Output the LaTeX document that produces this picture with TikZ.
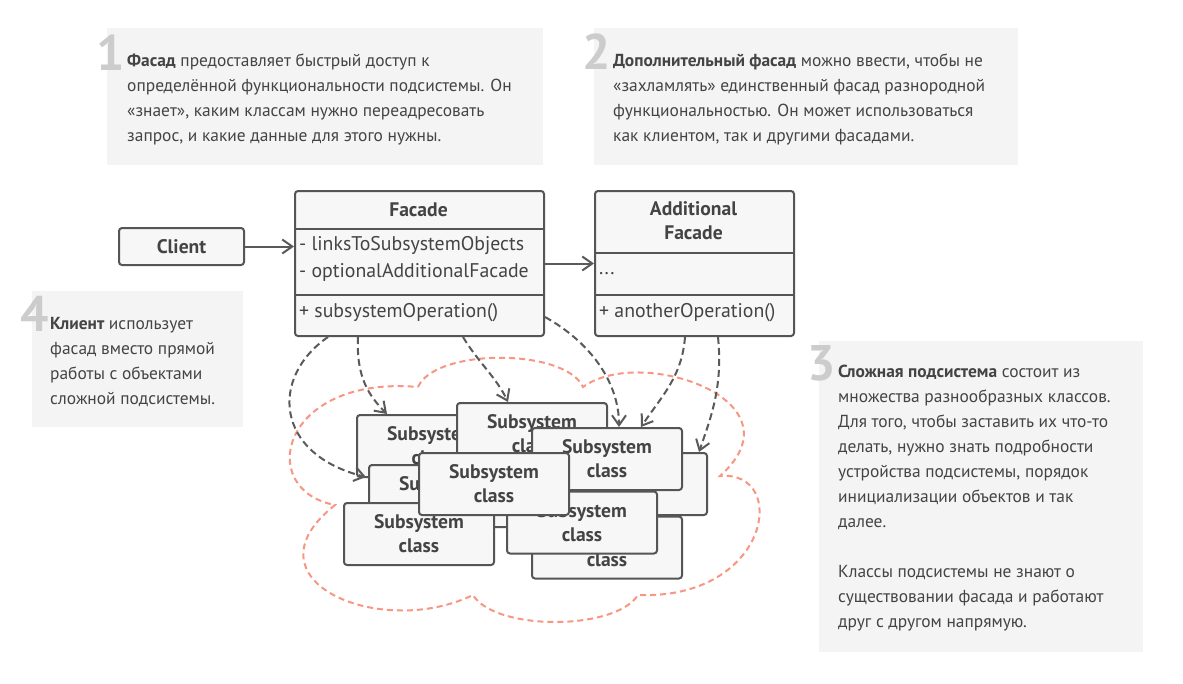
\documentclass[tikz,border=0pt]{standalone}
\usepackage{fontspec}
\setmainfont{PT Sans}
\usetikzlibrary{arrows.meta}
\definecolor{notebg}{RGB}{244,244,244}
\definecolor{digitgray}{RGB}{204,204,204}
\definecolor{txt}{RGB}{68,68,68}
\definecolor{boxline}{RGB}{85,85,85}
\definecolor{boxfill}{RGB}{247,247,247}
\definecolor{arrowgray}{RGB}{90,90,90}
\definecolor{salmon}{RGB}{248,150,130}
\begin{document}
\begin{tikzpicture}[x=1pt,y=-1pt,
  notebox/.style={fill=notebg, draw=none, inner sep=0, anchor=north west},
  digit/.style={anchor=base east, inner sep=0, text=digitgray, font=\fontsize{50}{50}\selectfont\bfseries},
  notetext/.style={anchor=base west, inner sep=0, text=txt, font=\fontsize{17.4}{25}\selectfont},
  umlbox/.style={draw=boxline, fill=boxfill, line width=2pt, rounded corners=3pt, inner sep=0},
  divider/.style={draw=boxline, line width=2pt},
  umltitle/.style={inner sep=0, text=txt, align=center, font=\fontsize{19.6}{24}\selectfont\bfseries},
  umlattr/.style={inner sep=0, anchor=west, text=txt, font=\fontsize{19.8}{24}\selectfont},
  sub/.style={umlbox, minimum width=150pt, minimum height=62pt, text=txt, align=center, font=\fontsize{19.6}{24}\selectfont\bfseries},
  arr/.style={draw=arrowgray, line width=2pt, -{Straight Barb[length=10pt,width=14pt]}},
  dep/.style={arr, dash pattern=on 7pt off 4pt},
  cloudline/.style={draw=salmon, line width=2pt, dash pattern=on 6pt off 4pt}
]
\useasboundingbox (0,0) rectangle (1183,683);
\fill[white] (0,0) rectangle (1183,683);

% ---------- notes ----------
\node[notebox, minimum width=436pt, minimum height=137pt] (n1) at (107,28) {};
\node[digit] (d1) at (125,70) {1};
\node[notetext] (t1) at (127,66) {\vtop{%
\hbox{\textbf{Фасад} предоставляет быстрый доступ к}
\hbox{определённой функциональности подсистемы. Он}
\hbox{«знает», каким классам нужно переадресовать}
\hbox{запрос, и какие данные для этого нужны.}}};

\node[notebox, minimum width=424pt, minimum height=137pt] (n2) at (594,28) {};
\node[digit] (d2) at (611,69) {2};
\node[notetext] (t2) at (613,66) {\vtop{%
\hbox{\textbf{Дополнительный фасад} можно ввести, чтобы не}
\hbox{«захламлять» единственный фасад разнородной}
\hbox{функциональностью. Он может использоваться}
\hbox{как клиентом, так и другими фасадами.}}};

\node[notebox, minimum width=211pt, minimum height=136pt] (n4) at (32,291) {};
\node[digit] (d4) at (49,331) {4};
\node[notetext] (t4) at (50,329) {\vtop{%
\hbox{\textbf{Клиент} использует}
\hbox{фасад вместо прямой}
\hbox{работы с объектами}
\hbox{сложной подсистемы.}}};

\node[notebox, minimum width=324pt, minimum height=311pt] (n3) at (819,341) {};
\node[digit] (d3) at (836,380) {3};
\node[notetext] (t3) at (838,377) {\vtop{%
\hbox{\textbf{Сложная подсистема} состоит из}
\hbox{множества разнообразных классов.}
\hbox{Для того, чтобы заставить их что-то}
\hbox{делать, нужно знать подробности}
\hbox{устройства подсистемы, порядок}
\hbox{инициализации объектов и так}
\hbox{далее.}
\hbox{}
\hbox{Классы подсистемы не знают о}
\hbox{существовании фасада и работают}
\hbox{друг с другом напрямую.}}};

% ---------- cloud ----------
\draw[cloudline] (418,387) .. controls (435,348) and (565,348) .. (583,387)
  .. controls (640,345) and (805,400) .. (720,476)
  .. controls (790,470) and (770,600) .. (638,595)
  .. controls (615,631) and (495,631) .. (473,595)
  .. controls (380,640) and (240,580) .. (335,505)
  .. controls (255,490) and (280,375) .. (418,387);

% ---------- client ----------
\node[umlbox, minimum width=125pt, minimum height=37pt, text=txt, font=\fontsize{19.6}{24}\selectfont\bfseries] (client) at (181.5,246.5) {Client};

% ---------- facade ----------
\node[umlbox, minimum width=249pt, minimum height=145pt, anchor=north west] (facade) at (294,190) {};
\draw[divider] ([yshift=-39pt]facade.north west) -- ([yshift=-39pt]facade.north east);
\draw[divider] ([yshift=42pt]facade.south west) -- ([yshift=42pt]facade.south east);
\node[umltitle] (ftitle) at (418.5,210) {Facade};
\node[umlattr] (fa1) at (299,246) {- linksToSubsystemObjects};
\node[umlattr] (fa2) at (299,272) {- optionalAdditionalFacade};
\node[umlattr] (fm1) at (299,313) {+ subsystemOperation()};

% ---------- additional facade ----------
\node[umlbox, minimum width=199pt, minimum height=145pt, anchor=north west] (addl) at (594,190) {};
\draw[divider] ([yshift=-63pt]addl.north west) -- ([yshift=-63pt]addl.north east);
\draw[divider] ([yshift=42pt]addl.south west) -- ([yshift=42pt]addl.south east);
\node[umltitle] (atitle) at (693.5,221) {Additional\\Facade};
\node[umlattr] (aa1) at (599,274) {...};
\node[umlattr] (am1) at (599,313) {+ anotherOperation()};

% ---------- associations ----------
\draw[arr] (client.east) -- (client.east -| facade.west);
\draw[arr] (facade.east) -- (addl.west);

% ---------- subsystem classes ----------
\node[sub] (sA) at (432,446) {Subsystem\\class};
\node[sub] (sB) at (532,434) {Subsystem\\class};
\node[sub] (sE) at (444,496) {Subsystem\\class};
\node[sub] (sG) at (419,534) {Subsystem\\class};
\node[sub] (sD) at (632,484) {Subsystem\\class};
\node[sub] (sC) at (607,459) {Subsystem\\class};
\node[sub] (sH) at (607,547.5) {Subsystem\\class};
\node[sub] (sI) at (582,522.5) {Subsystem\\class};
\node[sub] (sF) at (494,484) {Subsystem\\class};

% ---------- dependencies ----------
\draw[dep] ([xshift=34pt]facade.south west) .. controls +(-58,40) and +(-92,-23) .. ([xshift=-2pt,yshift=-13pt]sE.north west);
\draw[dep] ([xshift=64pt]facade.south west) .. controls +(-2,40) and +(-18,-18) .. ([xshift=31pt]sA.north west);
\draw[dep] ([xshift=169pt]facade.south west) .. controls +(15,25) and +(-12,-25) .. ([xshift=52pt]sB.north west);
\draw[dep] ([yshift=20pt]facade.south east) .. controls +(45,25) and +(0,-45) .. ([xshift=88pt]sC.north west);
\draw[dep] ([xshift=91pt]addl.south west) .. controls +(-3,40) and +(20,-30) .. ([xshift=110pt]sC.north west);
\draw[dep] ([xshift=124pt]addl.south west) .. controls +(5,50) and +(12,-35) .. ([xshift=143pt]sD.north west);
\end{tikzpicture}
\end{document}
